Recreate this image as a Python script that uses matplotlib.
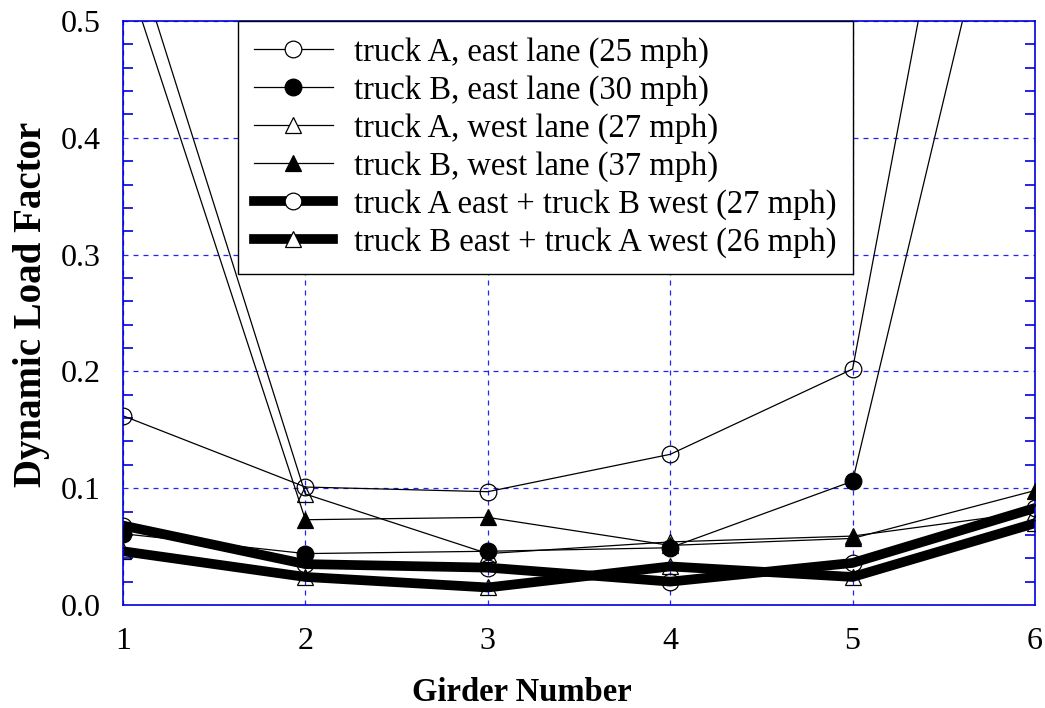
import matplotlib
matplotlib.use("Agg")
import matplotlib.pyplot as plt
from matplotlib.lines import Line2D
from matplotlib.ticker import MultipleLocator, FormatStrFormatter

plt.rcParams['font.family'] = ['Liberation Serif', 'DejaVu Serif']

# girder positions
girders = [1, 2, 3, 4, 5, 6]

# dynamic load factors per test run
a_east = [0.162, 0.101, 0.097, 0.129, 0.202, 1.03]
b_east = [0.061, 0.044, 0.046, 0.049, 0.106, 0.76]
a_west = [0.59, 0.095, 0.044, 0.054, 0.059, 0.080]
b_west = [0.55, 0.073, 0.075, 0.051, 0.057, 0.098]
a_east_b_west = [0.068, 0.035, 0.032, 0.020, 0.036, 0.083]
b_east_a_west = [0.046, 0.024, 0.015, 0.033, 0.024, 0.070]

labels = ['truck A, east lane (25 mph)',
          'truck B, east lane (30 mph)',
          'truck A, west lane (27 mph)',
          'truck B, west lane (37 mph)',
          'truck A east + truck B west (27 mph)',
          'truck B east + truck A west (26 mph)']

series = [a_east, b_east, a_west, b_west, a_east_b_west, b_east_a_west]
markers = ['o', 'o', '^', '^', 'o', '^']
filled = [False, True, False, True, False, False]
widths = [0.9, 0.9, 0.9, 0.9, 7, 7]
msize = 12

fig = plt.figure(figsize=(10.45, 7.08), dpi=100)
ax = fig.add_axes([0.1177, 0.1455, 0.8727, 0.8248])

# lines first, markers on top
for ys, lw in zip(series, widths):
    ax.plot(girders, ys, color='black', lw=lw, zorder=2 if lw < 2 else 2.5,
            solid_joinstyle='miter')
for ys, m, f in zip(series, markers, filled):
    ax.plot(girders, ys, ls='none', marker=m, ms=msize,
            mfc='black' if f else 'none', mec='black', mew=0.9, zorder=4)

ax.set_xlim(1, 6)
ax.set_ylim(0, 0.5)
ax.xaxis.set_major_locator(MultipleLocator(1))
ax.yaxis.set_major_locator(MultipleLocator(0.1))
ax.yaxis.set_minor_locator(MultipleLocator(0.02))
ax.yaxis.set_major_formatter(FormatStrFormatter('%.1f'))

blue = '#0000dd'
for s in ax.spines.values():
    s.set_color(blue)
    s.set_linewidth(1.2)
ax.grid(True, which='major', color='#2222ff', ls=(0, (4, 4)), lw=0.9)
ax.tick_params(axis='y', which='both', direction='in', color=blue,
               left=True, right=True, labelsize=23, pad=16)
ax.tick_params(axis='y', which='major', length=0)
ax.tick_params(axis='y', which='minor', length=7, width=1.2)
ax.tick_params(axis='x', which='major', direction='in', length=0,
               labelsize=23, pad=16)

ax.set_xlabel('Girder Number', fontsize=23.5, fontweight='bold')
ax.xaxis.set_label_coords(0.4375, -0.124)
ax.set_ylabel('Dynamic Load Factor', fontsize=28, fontweight='bold')
ax.yaxis.set_label_coords(-0.08, 0.515)

handles = []
for lw, m, f in zip(widths, markers, filled):
    handles.append(Line2D([], [], color='black', lw=lw, marker=m, ms=msize,
                          mfc='black' if f else 'white', mec='black', mew=0.9))
leg = ax.legend(handles, labels, loc='upper left', bbox_to_anchor=(0.126, 1.0),
                borderaxespad=0, fontsize=23.5, handlelength=2.4,
                handletextpad=0.65, labelspacing=0.22, fancybox=False,
                framealpha=1, edgecolor='black', borderpad=0.5)
leg.get_frame().set_linewidth(1.0)
leg.set_zorder(5)

fig.savefig('out.png', dpi=100)
